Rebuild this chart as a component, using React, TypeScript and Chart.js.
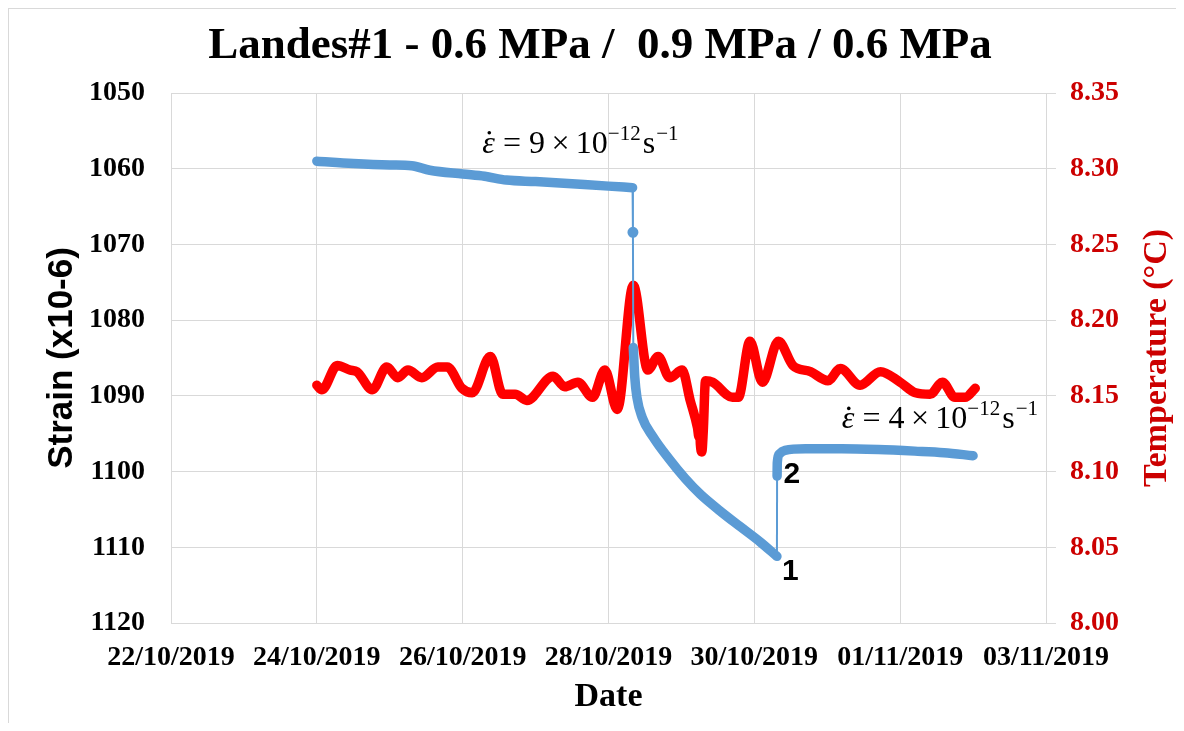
import React, { useEffect, useRef } from 'react';
import { Chart, registerables } from 'chart.js';

Chart.register(...registerables);

// ---------- data ----------
const TITLE = 'Landes#1 - 0.6 MPa /  0.9 MPa / 0.6 MPa';
const X_TITLE = 'Date';
const Y_TITLE = 'Strain (x10-6)';
const Y1_TITLE = 'Temperature (°C)';

// x values are days since 22/10/2019 00:00
const X_TICK_LABELS = ['22/10/2019', '24/10/2019', '26/10/2019', '28/10/2019', '30/10/2019', '01/11/2019', '03/11/2019'];

// Strain, stage 1 (0.6 MPa)
const STRAIN_A_DAYS = [2.0, 2.5, 3.0, 3.3, 3.55, 4.0, 4.3, 4.6, 5.0, 5.5, 6.0, 6.33];
const STRAIN_A_VALUES = [1059.0, 1059.3, 1059.5, 1059.6, 1060.2, 1060.7, 1061.0, 1061.5, 1061.7, 1062.0, 1062.3, 1062.5];
// loading jump
const JUMP_A_DAYS = [6.33, 6.335, 6.34];
const JUMP_A_VALUES = [1062.5, 1068.4, 1083.6];
// Strain, stage 2 (0.9 MPa)
const STRAIN_B_DAYS = [6.34, 6.36, 6.39, 6.46, 6.61, 6.82, 7.05, 7.26, 7.53, 7.81, 8.08, 8.31];
const STRAIN_B_VALUES = [1083.6, 1087.5, 1090.2, 1092.8, 1095.4, 1098.2, 1100.9, 1103.0, 1105.2, 1107.3, 1109.3, 1111.2];
// unloading jump
const JUMP_B_DAYS = [8.31, 8.312];
const JUMP_B_VALUES = [1111.2, 1100.6];
// Strain, stage 3 (0.6 MPa)
const STRAIN_C_DAYS = [8.312, 8.315, 8.34, 8.42, 8.7, 9.2, 9.7, 10.2, 10.6, 11.0];
const STRAIN_C_VALUES = [1100.6, 1098.8, 1097.7, 1097.2, 1097.0, 1097.0, 1097.1, 1097.3, 1097.5, 1097.9];

// Temperature
const TEMP_DAYS = [2.00, 2.07, 2.28, 2.46, 2.55, 2.76, 2.96, 3.11, 3.25, 3.44, 3.66, 3.79, 3.99, 4.13, 4.38, 4.55, 4.72, 4.88, 5.24, 5.40, 5.58, 5.78, 5.95, 6.12, 6.34, 6.54, 6.68, 6.84, 7.01, 7.12, 7.22, 7.24, 7.25, 7.26, 7.28, 7.30, 7.33, 7.43, 7.70, 7.78, 7.94, 8.11, 8.33, 8.53, 8.77, 9.01, 9.18, 9.45, 9.73, 10.00, 10.21, 10.41, 10.58, 10.75, 10.89, 11.03];
const TEMP_VALUES = [8.157, 8.154, 8.170, 8.167, 8.166, 8.154, 8.169, 8.162, 8.167, 8.162, 8.169, 8.169, 8.155, 8.152, 8.176, 8.151, 8.151, 8.147, 8.163, 8.156, 8.159, 8.149, 8.167, 8.141, 8.223, 8.167, 8.176, 8.162, 8.167, 8.147, 8.129, 8.123, 8.131, 8.118, 8.113, 8.127, 8.160, 8.159, 8.149, 8.149, 8.186, 8.159, 8.186, 8.170, 8.166, 8.160, 8.168, 8.157, 8.166, 8.159, 8.152, 8.151, 8.159, 8.149, 8.149, 8.155];

// strain-rate notes: anchor day, anchor strain, mantissa
const RATE_NOTE_DAYS = [4.27, 9.2];
const RATE_NOTE_STRAINS = [1057.9, 1094.3];
const RATE_NOTE_MANTISSAS = ['9', '4'];

// point labels
const POINT_LABELS = ['1', '2'];
const POINT_LABEL_DAYS = [8.38, 8.40];
const POINT_LABEL_STRAINS = [1114.3, 1101.5];

// ---------- styles ----------
const BLUE = '#5B9BD5';
const RED = '#FF0000';
const AXIS_RED = '#CC0000';
const GRID = '#d9d9d9';
const SERIF = '"Liberation Serif", "Times New Roman", serif';
const SANS = '"Liberation Sans", Arial, sans-serif';

const pts = (xs: number[], ys: number[]) => xs.map((x, i) => ({ x, y: ys[i] }));

const decorPlugin = {
  id: 'decor',
  afterDraw(chart: any) {
    const { ctx, scales, chartArea } = chart;
    const xs = scales.x;
    const ys = scales.y;
    ctx.save();

    // title
    ctx.fillStyle = '#000';
    ctx.font = `bold 45px ${SERIF}`;
    ctx.textAlign = 'center';
    ctx.textBaseline = 'middle';
    ctx.fillText(TITLE, 591, 37);

    // right axis title (reads bottom to top)
    ctx.save();
    ctx.translate(1148, (chartArea.top + chartArea.bottom) / 2);
    ctx.rotate(-Math.PI / 2);
    ctx.fillStyle = AXIS_RED;
    ctx.font = `bold 34px ${SERIF}`;
    ctx.textAlign = 'center';
    ctx.textBaseline = 'middle';
    ctx.fillText(Y1_TITLE, 0, 0);
    ctx.restore();

    // strain rate notes
    ctx.textAlign = 'left';
    ctx.textBaseline = 'alphabetic';
    ctx.fillStyle = '#000';
    RATE_NOTE_DAYS.forEach((d, i) => {
      let x = xs.getPixelForValue(d);
      const y = ys.getPixelForValue(RATE_NOTE_STRAINS[i]);
      ctx.font = `italic 32px ${SERIF}`;
      ctx.fillText('ε', x, y);
      const ew = ctx.measureText('ε').width;
      ctx.beginPath();
      ctx.arc(x + ew * 0.55, y - 20, 1.8, 0, Math.PI * 2);
      ctx.fill();
      x += ew;
      ctx.font = `32px ${SERIF}`;
      const main = ` = ${RATE_NOTE_MANTISSAS[i]}\u2009×\u200910`;
      ctx.fillText(main, x, y);
      x += ctx.measureText(main).width;
      ctx.font = `21px ${SERIF}`;
      ctx.fillText('−12', x, y - 13);
      x += ctx.measureText('−12').width + 2;
      ctx.font = `32px ${SERIF}`;
      ctx.fillText('s', x, y);
      x += ctx.measureText('s').width + 1;
      ctx.font = `21px ${SERIF}`;
      ctx.fillText('−1', x, y - 13);
    });

    // point labels
    ctx.font = `bold 30px ${SANS}`;
    POINT_LABELS.forEach((t, i) => {
      ctx.fillText(t, xs.getPixelForValue(POINT_LABEL_DAYS[i]), ys.getPixelForValue(POINT_LABEL_STRAINS[i]));
    });
    ctx.restore();
  },
};

export default function App() {
  const ref = useRef<HTMLCanvasElement>(null);

  useEffect(() => {
    const thick = {
      borderColor: BLUE,
      backgroundColor: BLUE,
      borderWidth: 9.5,
      borderCapStyle: 'round' as const,
      borderJoinStyle: 'round' as const,
      pointRadius: 0,
      cubicInterpolationMode: 'monotone' as const,
      yAxisID: 'y',
    };
    const thin = {
      borderColor: BLUE,
      backgroundColor: BLUE,
      borderWidth: 2,
      tension: 0,
      yAxisID: 'y',
    };
    const chart = new Chart(ref.current as HTMLCanvasElement, {
      type: 'scatter',
      data: {
        datasets: [
          { ...thick, label: 'Strain 1', data: pts(STRAIN_A_DAYS, STRAIN_A_VALUES), showLine: true },
          { ...thin, label: 'Jump 1', data: pts(JUMP_A_DAYS, JUMP_A_VALUES), showLine: true, pointRadius: [0, 4.5, 0] },
          { ...thick, label: 'Strain 2', data: pts(STRAIN_B_DAYS, STRAIN_B_VALUES), showLine: true },
          { ...thin, label: 'Jump 2', data: pts(JUMP_B_DAYS, JUMP_B_VALUES), showLine: true, pointRadius: 0 },
          { ...thick, label: 'Strain 3', data: pts(STRAIN_C_DAYS, STRAIN_C_VALUES), showLine: true },
          {
            label: 'Temperature',
            data: pts(TEMP_DAYS, TEMP_VALUES),
            showLine: true,
            borderColor: RED,
            backgroundColor: RED,
            borderWidth: 9.5,
            borderCapStyle: 'round',
            borderJoinStyle: 'round',
            cubicInterpolationMode: 'monotone',
            pointRadius: 0,
            yAxisID: 'y1',
          },
        ],
      } as any,
      options: {
        responsive: false,
        animation: false,
        devicePixelRatio: 1,
        events: [],
        layout: { padding: { top: 84, left: 0, right: 0, bottom: 0 } },
        plugins: { legend: { display: false }, tooltip: { enabled: false }, title: { display: false } },
        scales: {
          x: {
            type: 'linear',
            min: 0,
            max: 12,
            afterFit: (s: any) => { s.height = 100; },
            afterBuildTicks: (s: any) => {
              s.ticks = X_TICK_LABELS.map((_, i) => ({ value: i * 2 }));
            },
            ticks: {
              autoSkip: false,
              maxRotation: 0,
              padding: 18,
              color: '#000',
              font: { family: SERIF, size: 28, weight: 'bold' },
              callback: (_v: any, i: number) => X_TICK_LABELS[i],
            },
            grid: { color: GRID, lineWidth: 1, drawTicks: false },
            border: { color: GRID },
            title: {
              display: true,
              text: X_TITLE,
              color: '#000',
              font: { family: SERIF, size: 34, weight: 'bold' },
              padding: { top: 0, bottom: 5 },
            },
          },
          y: {
            type: 'linear',
            position: 'left',
            reverse: true,
            min: 1050,
            max: 1120,
            afterFit: (s: any) => { s.width = 162; },
            ticks: {
              stepSize: 10,
              padding: 26,
              color: '#000',
              font: { family: SERIF, size: 28, weight: 'bold' },
              callback: (v: any) => String(Math.round(Number(v))),
            },
            grid: { color: GRID, lineWidth: 1, drawTicks: false },
            border: { color: GRID },
            title: {
              display: true,
              text: Y_TITLE,
              color: '#000',
              font: { family: SANS, size: 35, weight: 'bold' },
              padding: { top: 32, bottom: 0 },
            },
          },
          y1: {
            type: 'linear',
            position: 'right',
            min: 8.0,
            max: 8.35,
            afterFit: (s: any) => { s.width = 129; },
            ticks: {
              stepSize: 0.05,
              padding: 14,
              color: AXIS_RED,
              font: { family: SERIF, size: 28, weight: 'bold' },
              callback: (v: any) => Number(v).toFixed(2),
            },
            grid: { drawOnChartArea: false, color: GRID, drawTicks: true, tickLength: 10 },
            border: { display: false },
          },
        },
      } as any,
      plugins: [decorPlugin],
    });
    return () => chart.destroy();
  }, []);

  return (
    <div style={{ borderTop: `1px solid ${GRID}`, borderLeft: `1px solid ${GRID}`, width: 1168, height: 715, boxSizing: 'border-box', background: '#fff' }}>
      <canvas ref={ref} width={1166} height={714} style={{ display: 'block' }} />
    </div>
  );
}
